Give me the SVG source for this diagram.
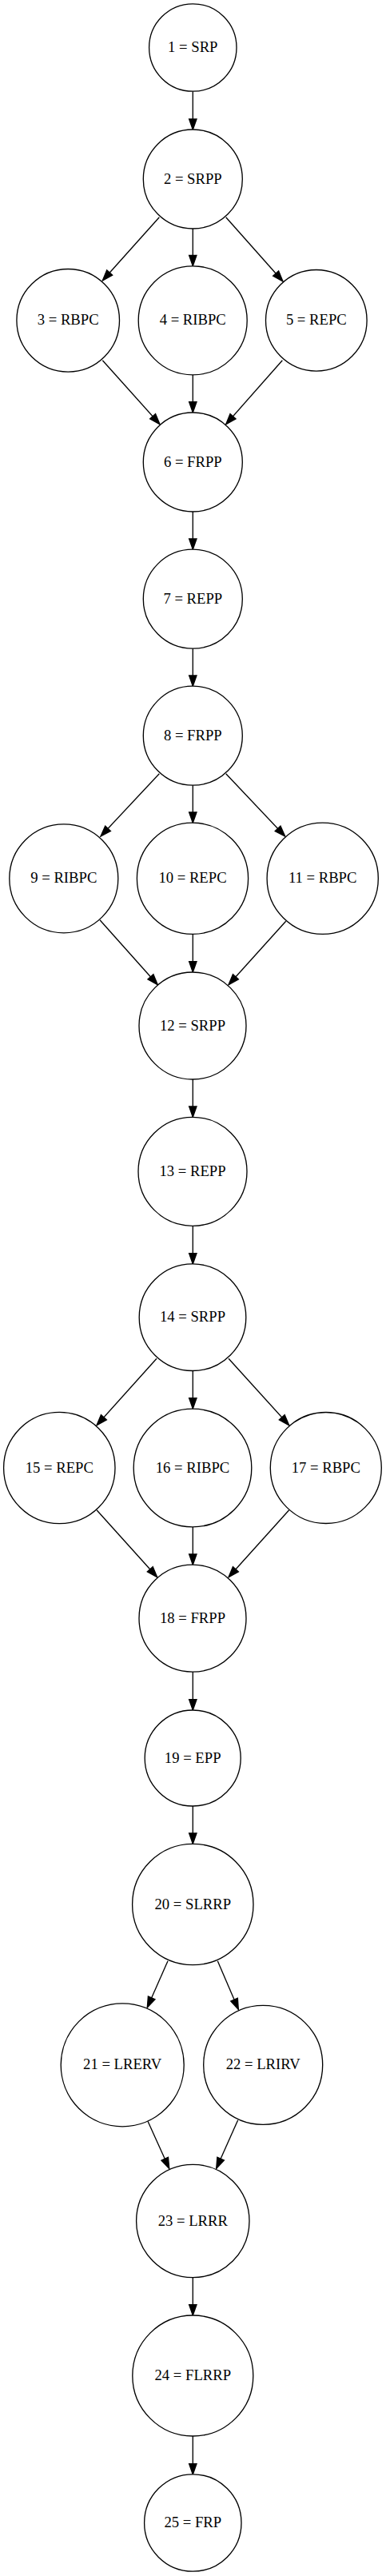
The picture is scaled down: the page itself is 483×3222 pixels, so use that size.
<svg xmlns="http://www.w3.org/2000/svg" width="483" height="3222" viewBox="0 0 483 3222">
<defs>
<style>
.n circle{fill:#fff;stroke:#000;stroke-width:1.33}
.n text{font-family:"Liberation Serif","Times New Roman",serif;font-size:18.67px;text-anchor:middle;fill:#000}
.e line{stroke:#000;stroke-width:1.33;fill:none;marker-end:url(#ah)}
</style>
<marker id="ah" markerUnits="userSpaceOnUse" markerWidth="16" markerHeight="12" refX="13.3" refY="4.67" orient="auto" overflow="visible">
<path d="M0,0 L13.3,4.67 L0,9.33 Z" fill="#000" stroke="#000" stroke-width="1.33"/>
</marker>
</defs>
<rect width="483" height="3222" fill="#fff"/>
<g id="edges" class="e">
<line x1="241.3" y1="114.2" x2="241.3" y2="162.3"/>
<line x1="199.3" y1="271.7" x2="128.3" y2="351"/>
<line x1="241.3" y1="286" x2="241.3" y2="332.7"/>
<line x1="282.7" y1="271.7" x2="354" y2="352"/>
<line x1="128.3" y1="450.7" x2="200" y2="530.7"/>
<line x1="241.3" y1="469" x2="241.3" y2="516"/>
<line x1="353.3" y1="450.7" x2="282.7" y2="530.7"/>
<line x1="241.3" y1="640" x2="241.3" y2="687.3"/>
<line x1="241.3" y1="811" x2="241.3" y2="858.3"/>
<line x1="199.3" y1="967.7" x2="126" y2="1046"/>
<line x1="241.3" y1="982" x2="241.3" y2="1029.3"/>
<line x1="282.7" y1="967.7" x2="356.7" y2="1046"/>
<line x1="125" y1="1150.7" x2="197.3" y2="1231.7"/>
<line x1="241.3" y1="1168.3" x2="241.3" y2="1216"/>
<line x1="357.7" y1="1152.3" x2="286" y2="1231.7"/>
<line x1="241.3" y1="1350" x2="241.3" y2="1397.3"/>
<line x1="241.3" y1="1533.3" x2="241.3" y2="1581"/>
<line x1="196" y1="1699.3" x2="121" y2="1782.7"/>
<line x1="241.3" y1="1714.3" x2="241.3" y2="1762"/>
<line x1="286" y1="1699.3" x2="361.7" y2="1782.7"/>
<line x1="121" y1="1888.7" x2="196.7" y2="1972.7"/>
<line x1="241.3" y1="1910" x2="241.3" y2="1957.3"/>
<line x1="361.7" y1="1888.7" x2="286" y2="1972.7"/>
<line x1="241.3" y1="2091" x2="241.3" y2="2139"/>
<line x1="241.3" y1="2259" x2="241.3" y2="2306.3"/>
<line x1="210" y1="2452.7" x2="184.3" y2="2511"/>
<line x1="272.3" y1="2452.7" x2="298.3" y2="2513.3"/>
<line x1="185" y1="2653.3" x2="211.7" y2="2712.3"/>
<line x1="297.7" y1="2651.7" x2="270.7" y2="2712.3"/>
<line x1="241.3" y1="2848.7" x2="241.3" y2="2896"/>
<line x1="241.3" y1="3046.7" x2="241.3" y2="3095"/>
</g>
<g id="n1" class="n"><circle cx="241.3" cy="59.5" r="54.7"/><text x="241.3" y="65.1">1 = SRP</text></g>
<g id="n2" class="n"><circle cx="241.3" cy="224" r="62"/><text x="241.3" y="229.6">2 = SRPP</text></g>
<g id="n3" class="n"><circle cx="85.2" cy="400.8" r="64.3"/><text x="85.2" y="406.4">3 = RBPC</text></g>
<g id="n4" class="n"><circle cx="241.2" cy="400.8" r="68"/><text x="241.2" y="406.4">4 = RIBPC</text></g>
<g id="n5" class="n"><circle cx="395.8" cy="400.8" r="63.3"/><text x="395.8" y="406.4">5 = REPC</text></g>
<g id="n6" class="n"><circle cx="241.3" cy="578" r="62"/><text x="241.3" y="583.6">6 = FRPP</text></g>
<g id="n7" class="n"><circle cx="241.3" cy="749.2" r="62"/><text x="241.3" y="754.8">7 = REPP</text></g>
<g id="n8" class="n"><circle cx="241.3" cy="920.2" r="62"/><text x="241.3" y="925.8">8 = FRPP</text></g>
<g id="n9" class="n"><circle cx="79.8" cy="1098.8" r="68"/><text x="79.8" y="1104.4">9 = RIBPC</text></g>
<g id="n10" class="n"><circle cx="241" cy="1098.8" r="69.6"/><text x="241" y="1104.4">10 = REPC</text></g>
<g id="n11" class="n"><circle cx="403.7" cy="1098.8" r="69.6"/><text x="403.7" y="1104.4">11 = RBPC</text></g>
<g id="n12" class="n"><circle cx="241" cy="1283" r="67"/><text x="241" y="1288.6">12 = SRPP</text></g>
<g id="n13" class="n"><circle cx="241" cy="1465.3" r="68"/><text x="241" y="1470.9">13 = REPP</text></g>
<g id="n14" class="n"><circle cx="241" cy="1647.7" r="66.8"/><text x="241" y="1653.3">14 = SRPP</text></g>
<g id="n15" class="n"><circle cx="74.3" cy="1836" r="69.7"/><text x="74.3" y="1841.6">15 = REPC</text></g>
<g id="n16" class="n"><circle cx="241" cy="1836" r="73.8"/><text x="241" y="1841.6">16 = RIBPC</text></g>
<g id="n17" class="n"><circle cx="407.8" cy="1836" r="69.5"/><text x="407.8" y="1841.6">17 = RBPC</text></g>
<g id="n18" class="n"><circle cx="241" cy="2024.2" r="67"/><text x="241" y="2029.8">18 = FRPP</text></g>
<g id="n19" class="n"><circle cx="241.2" cy="2199" r="60"/><text x="241.2" y="2204.6">19 = EPP</text></g>
<g id="n20" class="n"><circle cx="241.3" cy="2382" r="75.7"/><text x="241.3" y="2387.6">20 = SLRRP</text></g>
<g id="n21" class="n"><circle cx="153.2" cy="2582.8" r="77"/><text x="153.2" y="2588.4">21 = LRERV</text></g>
<g id="n22" class="n"><circle cx="329.2" cy="2582.8" r="74.5"/><text x="329.2" y="2588.4">22 = LRIRV</text></g>
<g id="n23" class="n"><circle cx="241.3" cy="2778" r="70.7"/><text x="241.3" y="2783.6">23 = LRRR</text></g>
<g id="n24" class="n"><circle cx="241.3" cy="2971.5" r="75.5"/><text x="241.3" y="2977.1">24 = FLRRP</text></g>
<g id="n25" class="n"><circle cx="241.3" cy="3155.5" r="60.7"/><text x="241.3" y="3161.1">25 = FRP</text></g>
</svg>
